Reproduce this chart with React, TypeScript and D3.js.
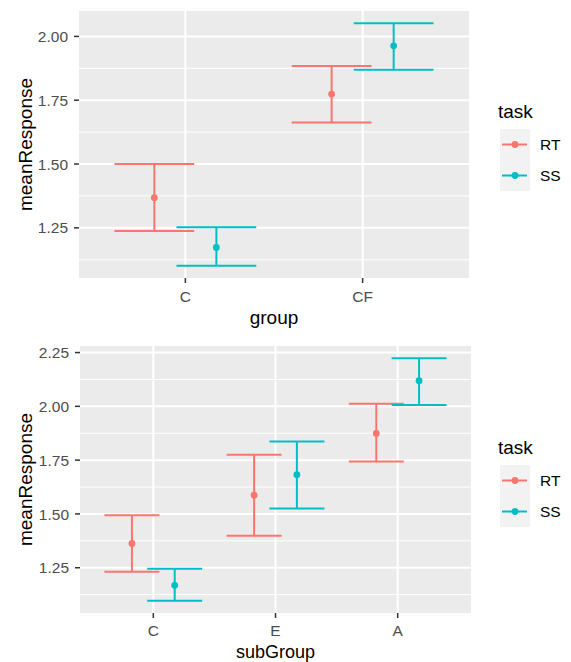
import * as d3 from 'd3';
import { useEffect, useRef } from 'react';

// tasks / colours (ggplot default hue palette)
const tasks = ['RT', 'SS'];
const taskColors = ['#F8766D', '#00BFC4'];

// top panel: by group
const groupCats = ['C', 'CF'];
const groupRtMean = [1.368, 1.774];
const groupRtLow = [1.238, 1.663];
const groupRtHigh = [1.5, 1.884];
const groupSsMean = [1.173, 1.963];
const groupSsLow = [1.101, 1.869];
const groupSsHigh = [1.252, 2.052];
const groupTicks = [1.25, 1.5, 1.75, 2.0];

// bottom panel: by subGroup
const subGroupCats = ['C', 'E', 'A'];
const subRtMean = [1.363, 1.587, 1.874];
const subRtLow = [1.231, 1.399, 1.744];
const subRtHigh = [1.494, 1.775, 2.012];
const subSsMean = [1.168, 1.682, 2.119];
const subSsLow = [1.096, 1.525, 2.006];
const subSsHigh = [1.245, 1.837, 2.224];
const subGroupTicks = [1.25, 1.5, 1.75, 2.0, 2.25];

const W = 571;
const H = 662;
const FONT = "'Liberation Sans', Arial, sans-serif";

type Row = { cat: string; task: number; mean: number; low: number; high: number };

const buildRows = (cats, means, lows, highs) =>
  cats.flatMap((cat, i) =>
    means.map((m, t) => ({ cat, task: t, mean: m[i], low: lows[t][i], high: highs[t][i] }))
  );

const drawPanel = (svg, opts) => {
  const { rows, cats, ticks, box, xTitle, xTitleY, xTitleSize, tickLabelY, legendTop } = opts;
  const { left, right, top, bottom } = box;

  const lo = d3.min(rows, (d: Row) => d.low);
  const hi = d3.max(rows, (d: Row) => d.high);
  const pad = (hi - lo) * 0.05;

  const x = d3.scalePoint().domain(cats).range([left, right]).padding(0.6);
  const y = d3.scaleLinear().domain([lo - pad, hi + pad]).range([bottom, top]);
  const step = x.step();

  const g = svg.append('g');
  g.append('rect')
    .attr('x', left)
    .attr('y', top)
    .attr('width', right - left)
    .attr('height', bottom - top)
    .style('fill', '#EBEBEB');

  // minor grid
  const minor = ticks.slice(0, -1).map((t, i) => (t + ticks[i + 1]) / 2);
  minor.unshift(ticks[0] - 0.125);
  minor.push(ticks[ticks.length - 1] + 0.125);
  g.selectAll('.minor')
    .data(minor.filter((v) => y(v) >= top && y(v) <= bottom))
    .enter()
    .append('line')
    .attr('x1', left)
    .attr('x2', right)
    .attr('y1', (d) => y(d))
    .attr('y2', (d) => y(d))
    .style('stroke', '#fff')
    .style('stroke-width', 1);

  g.selectAll('.major-y')
    .data(ticks)
    .enter()
    .append('line')
    .attr('x1', left)
    .attr('x2', right)
    .attr('y1', (d) => y(d))
    .attr('y2', (d) => y(d))
    .style('stroke', '#fff')
    .style('stroke-width', 2);

  g.selectAll('.major-x')
    .data(cats)
    .enter()
    .append('line')
    .attr('x1', (d) => x(d))
    .attr('x2', (d) => x(d))
    .attr('y1', top)
    .attr('y2', bottom)
    .style('stroke', '#fff')
    .style('stroke-width', 2);

  // y axis
  const yAxis = g.append('g');
  ticks.forEach((t) => {
    yAxis.append('line')
      .attr('x1', left - 5)
      .attr('x2', left)
      .attr('y1', y(t))
      .attr('y2', y(t))
      .style('stroke', '#333')
      .style('stroke-width', 1.5);
    yAxis.append('text')
      .attr('x', left - 11)
      .attr('y', y(t))
      .attr('dy', '0.36em')
      .attr('text-anchor', 'end')
      .style('font-family', FONT)
      .style('font-size', '15.5px')
      .style('fill', '#4D4D4D')
      .text(d3.format('.2f')(t));
  });

  // x axis
  cats.forEach((c) => {
    g.append('line')
      .attr('x1', x(c))
      .attr('x2', x(c))
      .attr('y1', bottom)
      .attr('y2', bottom + 5)
      .style('stroke', '#333')
      .style('stroke-width', 1.5);
    g.append('text')
      .attr('x', x(c))
      .attr('y', tickLabelY)
      .attr('text-anchor', 'middle')
      .style('font-family', FONT)
      .style('font-size', '15.5px')
      .style('fill', '#4D4D4D')
      .text(c);
  });

  g.append('text')
    .attr('x', (left + right) / 2)
    .attr('y', xTitleY)
    .attr('text-anchor', 'middle')
    .style('font-family', FONT)
    .style('font-size', `${xTitleSize}px`)
    .text(xTitle);

  g.append('text')
    .attr('transform', `translate(32, ${(top + bottom) / 2}) rotate(-90)`)
    .attr('text-anchor', 'middle')
    .style('font-family', FONT)
    .style('font-size', '19px')
    .text('meanResponse');

  // errorbars + points, dodged
  const dodge = (d: Row) => x(d.cat) + (d.task === 0 ? -0.175 : 0.175) * step;
  const halfCap = 0.225 * step;
  const marks = g.selectAll('.mark').data(rows).enter().append('g');
  marks.append('line')
    .attr('x1', dodge)
    .attr('x2', dodge)
    .attr('y1', (d) => y(d.low))
    .attr('y2', (d) => y(d.high))
    .style('stroke', (d) => taskColors[d.task])
    .style('stroke-width', 2);
  marks.append('line')
    .attr('x1', (d) => dodge(d) - halfCap)
    .attr('x2', (d) => dodge(d) + halfCap)
    .attr('y1', (d) => y(d.low))
    .attr('y2', (d) => y(d.low))
    .style('stroke', (d) => taskColors[d.task])
    .style('stroke-width', 2);
  marks.append('line')
    .attr('x1', (d) => dodge(d) - halfCap)
    .attr('x2', (d) => dodge(d) + halfCap)
    .attr('y1', (d) => y(d.high))
    .attr('y2', (d) => y(d.high))
    .style('stroke', (d) => taskColors[d.task])
    .style('stroke-width', 2);
  marks.append('circle')
    .attr('cx', dodge)
    .attr('cy', (d) => y(d.mean))
    .attr('r', 3.4)
    .style('fill', (d) => taskColors[d.task]);

  // legend
  const lg = g.append('g');
  lg.append('text')
    .attr('x', 498)
    .attr('y', legendTop - 11)
    .style('font-family', FONT)
    .style('font-size', '19px')
    .text('task');
  tasks.forEach((t, i) => {
    const ky = legendTop + i * 31;
    lg.append('rect')
      .attr('x', 500)
      .attr('y', ky)
      .attr('width', 30)
      .attr('height', 31)
      .style('fill', '#F2F2F2');
    lg.append('line')
      .attr('x1', 502)
      .attr('x2', 527)
      .attr('y1', ky + 15.5)
      .attr('y2', ky + 15.5)
      .style('stroke', taskColors[i])
      .style('stroke-width', 2);
    lg.append('circle')
      .attr('cx', 515)
      .attr('cy', ky + 15.5)
      .attr('r', 3.4)
      .style('fill', taskColors[i]);
    lg.append('text')
      .attr('x', 540)
      .attr('y', ky + 15.5)
      .attr('dy', '0.36em')
      .style('font-family', FONT)
      .style('font-size', '15.5px')
      .text(t);
  });
};

const App = () => {
  const ref = useRef(null);

  useEffect(() => {
    const svg = d3.select(ref.current);
    svg.selectAll('*').remove();

    drawPanel(svg, {
      rows: buildRows(groupCats, [groupRtMean, groupSsMean], [groupRtLow, groupSsLow], [groupRtHigh, groupSsHigh]),
      cats: groupCats,
      ticks: groupTicks,
      box: { left: 79, right: 469, top: 11, bottom: 278 },
      xTitle: 'group',
      xTitleY: 324,
      xTitleSize: 19,
      tickLabelY: 302,
      legendTop: 129,
    });

    drawPanel(svg, {
      rows: buildRows(subGroupCats, [subRtMean, subSsMean], [subRtLow, subSsLow], [subRtHigh, subSsHigh]),
      cats: subGroupCats,
      ticks: subGroupTicks,
      box: { left: 80, right: 471, top: 346, bottom: 613 },
      xTitle: 'subGroup',
      xTitleY: 657.5,
      xTitleSize: 18,
      tickLabelY: 636,
      legendTop: 465,
    });
  }, []);

  return (
    <svg
      ref={ref}
      width={W}
      height={H}
      style={{ position: 'absolute', left: 0, top: 0, background: '#fff' }}
    />
  );
};

export default App;
